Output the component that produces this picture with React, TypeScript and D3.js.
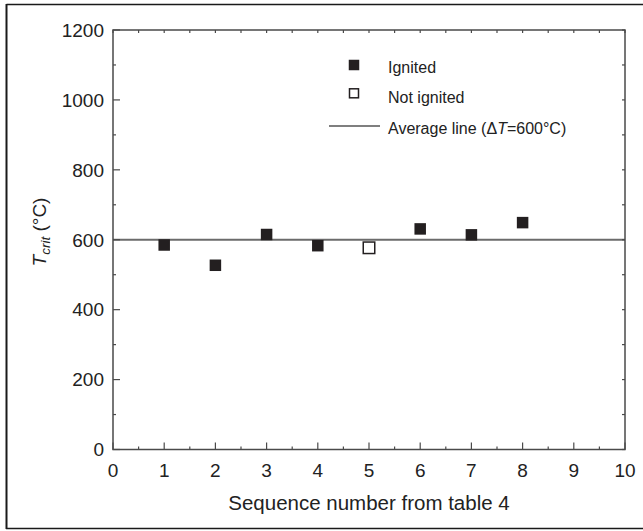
import React from "react";
import * as d3 from "d3";

const sequence = [1, 2, 3, 4, 5, 6, 7, 8];
const tCrit = [585, 527, 615, 583, 577, 631, 614, 649];
const ignited = [true, true, true, true, false, true, true, true];
const averageT = 600;
const xTicks = [0, 1, 2, 3, 4, 5, 6, 7, 8, 9, 10];
const yTicks = [0, 200, 400, 600, 800, 1000, 1200];

const W = 643;
const H = 531;
const FONT = "'Liberation Sans', Arial, Helvetica, sans-serif";

export default function App() {
  const x = d3.scaleLinear().domain([0, 10]).range([113, 625]);
  const y = d3.scaleLinear().domain([0, 1200]).range([449.5, 30]);
  const axisColor = "#4a4a4a";
  const ink = "#231f20";

  const xMinor = d3.range(0, 10.01, 0.5);
  const yMinor = d3.range(0, 1201, 100);

  const points = sequence.map((s, i) => ({ s, t: tCrit[i], ign: ignited[i] }));
  const m = 11.5;
  const lm = 10.5;

  return (
    <svg
      width={W}
      height={H}
      style={{ position: "absolute", left: 0, top: 0, background: "#fff" }}
      fontFamily={FONT}
    >
      {/* outer frame */}
      <line x1={6.5} y1={4.5} x2={W} y2={4.5} stroke="#1a1a1a" strokeWidth={1.5} />
      <line x1={6.5} y1={4} x2={6.5} y2={529} stroke="#1a1a1a" strokeWidth={2} />
      <line x1={6} y1={528.5} x2={W} y2={528.5} stroke="#1a1a1a" strokeWidth={1.5} />

      {/* average line */}
      <line
        x1={x(0)}
        x2={x(10)}
        y1={y(averageT)}
        y2={y(averageT)}
        stroke="#6b6b6b"
        strokeWidth={2}
      />

      {/* plot box */}
      <rect
        x={x(0)}
        y={y(1200)}
        width={x(10) - x(0)}
        height={y(0) - y(1200)}
        fill="none"
        stroke={axisColor}
        strokeWidth={1.5}
      />

      {/* x ticks bottom & top */}
      {xMinor.map((v) => {
        const major = Math.abs(v - Math.round(v)) < 1e-6;
        return (
          <g key={"xt" + v}>
            <line
              x1={x(v)}
              x2={x(v)}
              y1={y(0)}
              y2={y(0) - (major ? 7 : 3)}
              stroke={axisColor}
              strokeWidth={1.2}
            />
            <line
              x1={x(v)}
              x2={x(v)}
              y1={y(1200)}
              y2={y(1200) + 3}
              stroke={axisColor}
              strokeWidth={1.2}
            />
          </g>
        );
      })}
      {/* y ticks left & right */}
      {yMinor.map((v) => {
        const major = v % 200 === 0;
        return (
          <g key={"yt" + v}>
            <line
              x1={x(0)}
              x2={x(0) + (major ? 7 : 3)}
              y1={y(v)}
              y2={y(v)}
              stroke={axisColor}
              strokeWidth={1.2}
            />
            <line
              x1={x(10)}
              x2={x(10) - 3}
              y1={y(v)}
              y2={y(v)}
              stroke={axisColor}
              strokeWidth={1.2}
            />
          </g>
        );
      })}

      {/* tick labels */}
      {xTicks.map((v) => (
        <text
          key={"xl" + v}
          x={x(v)}
          y={477}
          textAnchor="middle"
          fontSize={19}
          fill="#222"
        >
          {v}
        </text>
      ))}
      {yTicks.map((v) => (
        <text
          key={"yl" + v}
          x={104}
          y={y(v) + 6.8}
          textAnchor="end"
          fontSize={19}
          fill="#222"
        >
          {v}
        </text>
      ))}

      {/* axis titles */}
      <text x={369} y={510} textAnchor="middle" fontSize={20.5} fill="#222">
        Sequence number from table 4
      </text>
      <text
        transform={`translate(46, 232) rotate(-90)`}
        textAnchor="middle"
        fontSize={19}
        fill="#222"
      >
        <tspan fontStyle="italic">T</tspan>
        <tspan fontStyle="italic" fontSize={13.5} dy={4}>
          crit
        </tspan>
        <tspan dy={-4}> (°C)</tspan>
      </text>

      {/* data markers */}
      {points.map((p) => (
        <rect
          key={"p" + p.s}
          x={x(p.s) - m / 2}
          y={y(p.t) - m / 2}
          width={m}
          height={m}
          fill={p.ign ? ink : "#fff"}
          stroke={ink}
          strokeWidth={p.ign ? 0 : 1.5}
        />
      ))}

      {/* legend */}
      <rect x={354 - lm / 2} y={65 - lm / 2} width={lm} height={lm} fill={ink} />
      <text x={388} y={73} fontSize={16} fill="#222">
        Ignited
      </text>
      <rect
        x={354 - (lm - 1.5) / 2}
        y={93.3 - (lm - 1.5) / 2}
        width={lm - 1.5}
        height={lm - 1.5}
        fill="#fff"
        stroke={ink}
        strokeWidth={1.5}
      />
      <text x={388} y={103} fontSize={16} fill="#222">
        Not ignited
      </text>
      <line x1={329} x2={380} y1={126} y2={126} stroke="#555" strokeWidth={1.5} />
      <text x={388} y={134} fontSize={16} fill="#222">
        Average line (Δ<tspan fontStyle="italic">T</tspan>=600°C)
      </text>
    </svg>
  );
}
